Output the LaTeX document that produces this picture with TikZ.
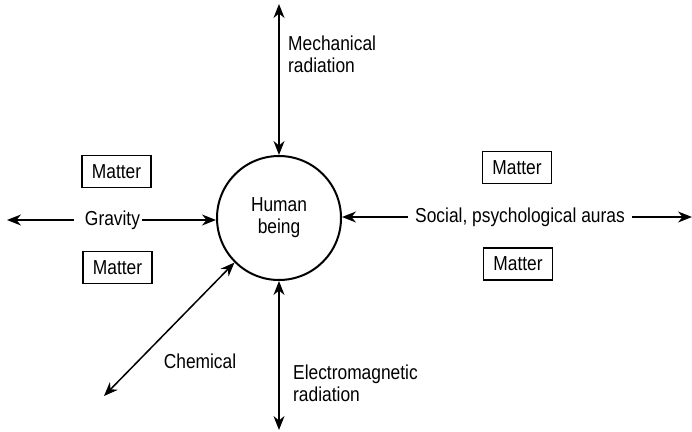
\documentclass[tikz,border=0pt]{standalone}
\usepackage{fontspec}
\setmainfont{Liberation Sans}[FakeStretch=0.86]
\usetikzlibrary{arrows.meta}
\begin{document}
\begin{tikzpicture}[x=1pt,y=1pt,
  lbl/.style={inner sep=0pt, font=\fontsize{20.2}{22}\selectfont},
  matterbox/.style={draw, line width=1.5pt, minimum width=69pt, minimum height=32pt,
    inner sep=0pt, font=\fontsize{20.2}{22}\selectfont},
  being/.style={draw, circle, line width=2pt, minimum size=124pt, inner sep=0pt,
    align=center, font=\fontsize{20.2}{22}\selectfont},
  tip/.style={Stealth[length=14pt,width=11pt,inset=4.5pt]},
  flow/.style={line width=1.5pt, -{Stealth[length=14pt,width=11pt,inset=4.5pt]}},
  twoway/.style={line width=1.5pt, {Stealth[length=14pt,width=11pt,inset=4.5pt]}-{Stealth[length=14pt,width=11pt,inset=4.5pt]}}]
\useasboundingbox (0,0) rectangle (692,-431);

% central node
\node[being] (hb) at (279,-218) {Human\\being};

% free ends of the connectors
\coordinate (mtop) at (279,-4);
\coordinate (ebot) at (279,-430);
\coordinate (gleft) at (7,-220);
\coordinate (sright) at (692,-217);
\coordinate (chem) at (104,-396);

% labels
\node[lbl, anchor=west, align=left] (mech) at (288,-54) {Mechanical\\radiation};
\node[lbl] (grav) at (112.5,-220) {Gravity};
\node[lbl] (soc) at (520,-217) {Social, psychological auras};
\node[lbl] (chemlbl) at (200,-361) {Chemical};
\node[lbl, anchor=west, align=left] (em) at (293,-383) {Electromagnetic\\radiation};

% matter boxes
\node[matterbox] (m1) at (116.5,-171.5) {Matter};
\node[matterbox] (m2) at (117.5,-267.5) {Matter};
\node[matterbox] (m3) at (517,-167.5) {Matter};
\node[matterbox] (m4) at (518,-264) {Matter};

% connectors
\draw[twoway] (mtop) -- (hb.north);
\draw[twoway] (hb.south) -- (ebot);
\draw[twoway] (chem) -- (hb.225);
\draw[flow] ([xshift=-11pt]grav.west) -- (gleft);
\draw[flow] ([xshift=2pt]grav.east) -- (grav.east -| hb.west);
\draw[flow] ([xshift=-7pt]soc.west) -- (soc.west -| hb.east);
\draw[flow] ([xshift=7pt]soc.east) -- (sright);
\end{tikzpicture}
\end{document}
